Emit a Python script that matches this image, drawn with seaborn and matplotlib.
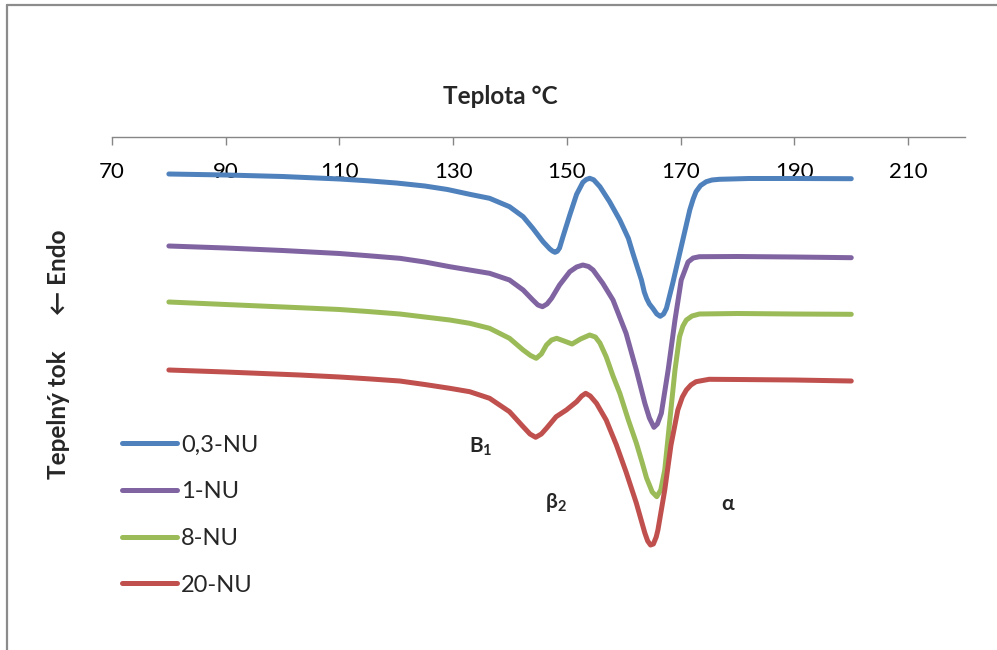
import numpy as np
import pandas as pd
import matplotlib
matplotlib.use("Agg")
import matplotlib.pyplot as plt
from matplotlib.lines import Line2D
import seaborn as sns

# DSC heating curves (temperature in °C, heat flow in arbitrary units, endo down)
temp_03 = [80, 90, 100, 110, 115, 120, 125, 129, 132.9, 136.4, 139.9, 142.3, 144.0, 145.8,
           147.0, 147.5, 147.9, 148.3, 148.7, 149.3, 150.5, 151.7, 152.8, 153.4, 154.0, 154.7,
           155.8, 157.5, 159.3, 160.8, 161.6, 163.1, 163.6, 164.0, 164.5, 165.1, 165.8, 166.4,
           167.0, 167.5, 168.6, 170.1, 171.6, 172.2, 172.7, 173.5, 174.5, 175.5, 176.8, 182,
           190, 200]
hf_03 = [-1.74, -1.75, -1.765, -1.79, -1.808, -1.83, -1.86, -1.895, -1.943, -1.983, -2.067,
         -2.167, -2.283, -2.417, -2.49, -2.512, -2.523, -2.513, -2.48, -2.367, -2.15, -1.943,
         -1.823, -1.795, -1.783, -1.798, -1.867, -2.017, -2.20, -2.383, -2.533, -2.80, -2.92,
         -2.983, -3.04, -3.083, -3.14, -3.163, -3.14, -3.083, -2.833, -2.467, -2.10, -1.99,
         -1.917, -1.855, -1.817, -1.80, -1.793, -1.785, -1.785, -1.787]

temp_1 = [80, 90, 100, 110, 115, 120.6, 125, 129.4, 132.9, 136.4, 139.9, 142.3, 144.0, 144.9,
          145.7, 146.5, 147.3, 148.7, 150.5, 151.7, 152.8, 153.8, 154.6, 156.3, 158.1, 160.4,
          162.2, 163.7, 164.5, 165.3, 165.9, 166.6, 167.8, 169.0, 170.1, 171.3, 172.2, 173.3,
          180, 190, 200]
hf_1 = [-2.46, -2.48, -2.505, -2.535, -2.557, -2.583, -2.62, -2.667, -2.70, -2.733, -2.80,
        -2.90, -3.00, -3.05, -3.067, -3.04, -2.983, -2.85, -2.717, -2.67, -2.65, -2.665, -2.70,
        -2.833, -3.00, -3.333, -3.70, -4.033, -4.18, -4.273, -4.24, -4.133, -3.70, -3.20, -2.80,
        -2.62, -2.58, -2.567, -2.565, -2.57, -2.577]

temp_8 = [80, 90, 103, 110, 115, 120.6, 125, 129.4, 132.9, 136.4, 139.9, 142.3, 143.6, 144.6,
          145.5, 146.4, 147.3, 148.2, 149.5, 150.9, 152.4, 154.0, 155.0, 155.8, 156.9, 158.1,
          159.3, 160.8, 162.2, 163.2, 164.0, 165.0, 165.8, 166.5, 167.2, 168.1, 169.0, 169.8,
          170.4, 171.0, 172.0, 173.3, 180, 190, 200]
hf_8 = [-3.02, -3.045, -3.077, -3.095, -3.115, -3.14, -3.17, -3.20, -3.233, -3.283, -3.383,
        -3.50, -3.555, -3.583, -3.54, -3.45, -3.40, -3.383, -3.41, -3.44, -3.39, -3.35, -3.37,
        -3.43, -3.567, -3.76, -3.933, -4.20, -4.43, -4.62, -4.78, -4.92, -4.967, -4.90, -4.70,
        -4.20, -3.70, -3.367, -3.26, -3.20, -3.16, -3.14, -3.135, -3.14, -3.143]

temp_20 = [80, 90, 103, 110, 115, 120.6, 125, 129.4, 132.9, 136.4, 139.9, 142.3, 143.5, 144.5,
           145.5, 146.4, 148.1, 149.9, 151.7, 152.6, 153.3, 154.1, 155.2, 156.9, 158.7, 160.4,
           162.2, 163.7, 164.2, 164.7, 165.2, 165.7, 166.0, 167.2, 168.3, 169.5, 170.3, 171.0,
           171.8, 172.7, 175.0, 180, 190, 200]
hf_20 = [-3.70, -3.72, -3.75, -3.77, -3.788, -3.81, -3.845, -3.883, -3.917, -3.983, -4.117,
         -4.267, -4.34, -4.373, -4.34, -4.283, -4.167, -4.10, -4.017, -3.96, -3.933, -3.96,
         -4.033, -4.20, -4.45, -4.72, -5.03, -5.33, -5.41, -5.45, -5.44, -5.37, -5.30, -4.90,
         -4.45, -4.10, -3.97, -3.90, -3.85, -3.817, -3.793, -3.795, -3.80, -3.81]

series_names = ["0,3-NU", "1-NU", "8-NU", "20-NU"]
series_colors = ["#4F81BD", "#8064A2", "#9BBB59", "#C0504D"]

x_ticks = [70, 90, 110, 130, 150, 170, 190, 210]
x_limits = (70, 220)

peak_labels = [r"$\mathrm{B}_{1}$", r"$\mathrm{\beta}_{2}$", r"$\mathrm{\alpha}$"]
peak_label_pos = [(134.9, -4.47), (148.1, -5.03), (178.4, -5.04)]

frames = []
for name, t, h in zip(series_names, [temp_03, temp_1, temp_8, temp_20],
                      [hf_03, hf_1, hf_8, hf_20]):
    frames.append(pd.DataFrame({"T": t, "HF": h, "sample": name}))
df = pd.concat(frames, ignore_index=True)

sns.set_theme(style="white")
plt.rcParams["font.family"] = ["Lato", "DejaVu Sans"]
plt.rcParams["mathtext.fontset"] = "custom"
plt.rcParams["mathtext.rm"] = "Lato:bold"
plt.rcParams["mathtext.it"] = "Lato:bold"
plt.rcParams["mathtext.bf"] = "Lato:bold"

fig = plt.figure(figsize=(9.97, 6.5), dpi=100)
ax = fig.add_axes([112 / 997, 1 - 620 / 650, 853 / 997, (620 - 137) / 650])

sns.lineplot(data=df, x="T", y="HF", hue="sample", hue_order=series_names,
             palette=series_colors, sort=False, estimator=None, linewidth=3.6,
             ax=ax, legend=True)
for ln in ax.get_lines():
    ln.set_solid_capstyle("round")
    ln.set_solid_joinstyle("round")

ax.set_xlim(*x_limits)
ax.set_ylim(-6.20, -1.37)
ax.set_xticks(x_ticks)
ax.set_xticklabels([str(v) for v in x_ticks])
ax.set_yticks([])
ax.set_xlabel("")
ax.set_ylabel("")

# horizontal axis drawn along the top of the plot area, labels beneath it
for side in ["left", "right", "top"]:
    ax.spines[side].set_visible(False)
ax.spines["bottom"].set_position(("axes", 1.0))
ax.spines["bottom"].set_color("#868686")
ax.spines["bottom"].set_linewidth(1.0)
ax.tick_params(axis="x", direction="out", length=6, width=1.0, color="#868686",
               pad=12, labelsize=16, labelcolor="black", bottom=True)

for lbl, (tx, ty) in zip(peak_labels, peak_label_pos):
    ax.text(tx, ty, lbl, ha="center", va="center", fontsize=15, fontweight="bold")

sns.move_legend(ax, "upper left", bbox_to_anchor=(122 / 997, 1 - 434.5 / 650),
                bbox_transform=fig.transFigure, frameon=False, title=None,
                fontsize=17, handlelength=2.33, handletextpad=0.17, labelspacing=1.09,
                borderpad=0, borderaxespad=0)
for lh in ax.get_legend().get_lines():
    lh.set_linewidth(3.6)
    lh.set_solid_capstyle("round")

fig.text(500 / 997, 1 - 97 / 650, "Teplota °C", ha="center", va="center",
         fontsize=17.5, fontweight="bold")
fig.text(58 / 997, 1 - 354 / 650, "Tepelný tok      \u2190 Endo", rotation=90,
         ha="center", va="center", fontsize=17.5, fontweight="bold")

# outer chart border (left and top edges)
fig.add_artist(Line2D([7 / 997, 7 / 997], [0, 1 - 5 / 650], color="#8c8c8c",
                      linewidth=1.6, transform=fig.transFigure))
fig.add_artist(Line2D([7 / 997, 1], [1 - 5 / 650, 1 - 5 / 650], color="#8c8c8c",
                      linewidth=1.6, transform=fig.transFigure))

fig.savefig("out.png", dpi=100)
